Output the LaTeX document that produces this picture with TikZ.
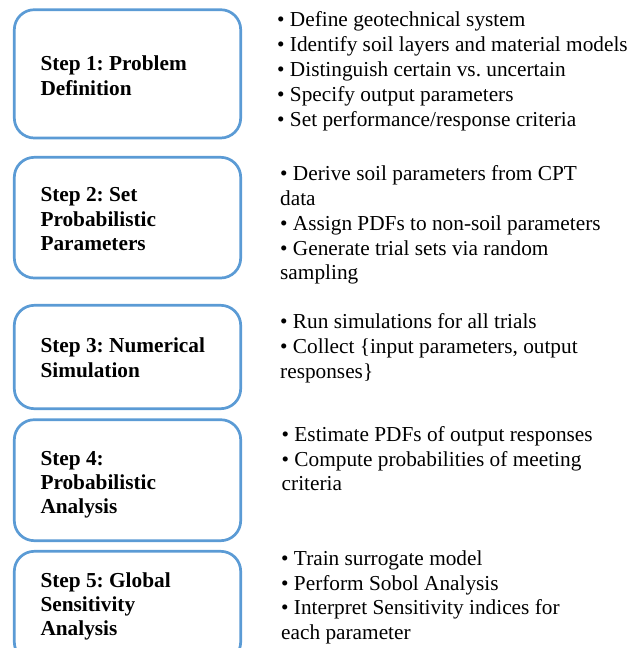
\documentclass[tikz,border=0pt]{standalone}
\usepackage{fontspec}
\setmainfont{Liberation Serif}
\frenchspacing
\definecolor{stepblue}{HTML}{5B9BD5}
\tikzset{
  stepbox/.style={draw=stepblue, line width=2.7pt, rounded corners=20pt,
    fill=white, inner sep=0pt, minimum width=226.4pt},
  steptitle/.style={anchor=north west, inner sep=0pt, align=left,
    font=\fontsize{21.3}{24.2}\selectfont\bfseries},
  stepitems/.style={anchor=north west, inner sep=0pt, align=left,
    font=\fontsize{21.3}{24.8}\selectfont},
}
\begin{document}
\begin{tikzpicture}[x=1pt, y=-1pt]
  \useasboundingbox (0,0) rectangle (640,648);
  \clip (0,0) rectangle (640,648);

  % step boxes
  \node[stepbox, minimum height=128.3pt] (box1) at (127.5,73.85) {};
  \node[stepbox, minimum height=120.7pt] (box2) at (127.5,217.65) {};
  \node[stepbox, minimum height=103.4pt] (box3) at (127.5,357) {};
  \node[stepbox, minimum height=121pt]   (box4) at (127.5,480.2) {};
  \node[stepbox, minimum height=110.7pt] (box5) at (127.5,606.65) {};

  % step titles
  \node[steptitle] (t1) at (40.3,53.76)  {\strut Step 1: Problem\\Definition};
  \node[steptitle] (t2) at (40.3,184.76) {\strut Step 2: Set\\Probabilistic\\Parameters};
  \node[steptitle] (t3) at (40.3,335.76) {\strut Step 3: Numerical\\Simulation};
  \node[steptitle] (t4) at (40.3,448.06) {\strut Step 4:\\Probabilistic\\Analysis};
  \node[steptitle] (t5) at (40.3,570.36) {\strut Step 5: Global\\Sensitivity\\Analysis};

  % task lists
  \node[stepitems] (l1) at (277,9.34) {\strut • Define geotechnical system\\
    • Identify soil layers and material models\\
    • Distinguish certain vs. uncertain\\
    • Specify output parameters\\
    • Set performance/response criteria};
  \node[stepitems] (l2) at (280,163.14) {\strut • Derive soil parameters from CPT\\
    data\\
    • Assign PDFs to non-soil parameters\\
    • Generate trial sets via random\\
    sampling};
  \node[stepitems] (l3) at (280,310.94) {\strut • Run simulations for all trials\\
    • Collect \{input parameters, output\\
    responses\}};
  \node[stepitems] (l4) at (281.5,423.64) {\strut • Estimate PDFs of output responses\\
    • Compute probabilities of meeting\\
    criteria};
  \node[stepitems] (l5) at (281,547.64) {\strut • Train surrogate model\\
    • Perform Sobol Analysis\\
    • Interpret Sensitivity indices for\\
    each parameter};
\end{tikzpicture}
\end{document}
